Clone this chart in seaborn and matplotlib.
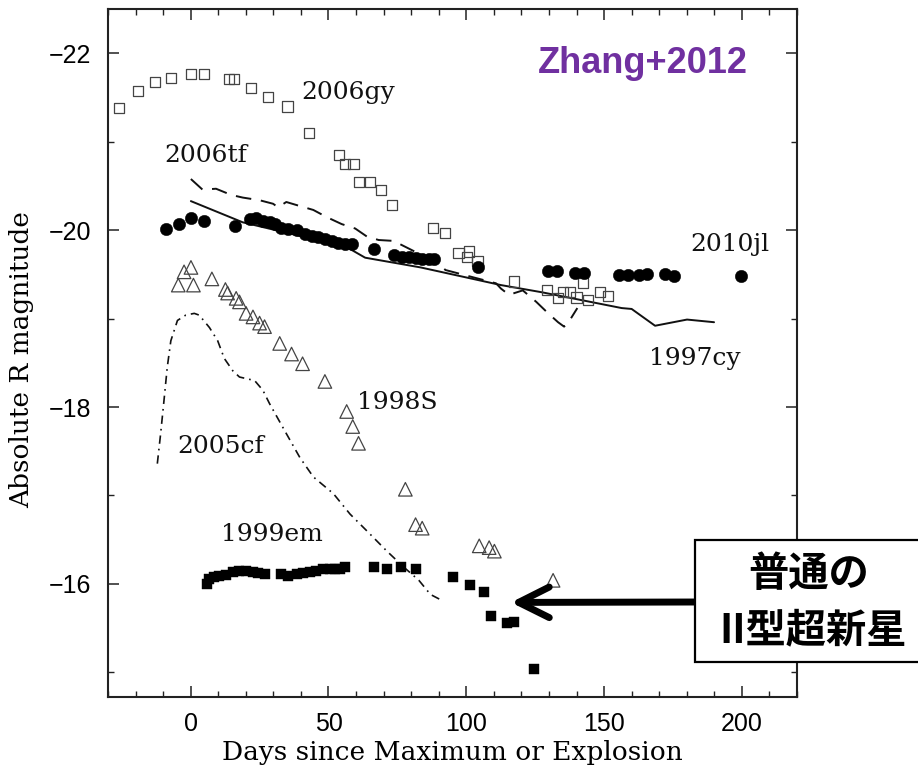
import numpy as np
import pandas as pd
import matplotlib
matplotlib.use("Agg")
import matplotlib.pyplot as plt
import seaborn as sns
from matplotlib.patches import Rectangle
from matplotlib.ticker import MultipleLocator

# ---------------- data ----------------
gy_days = [-26.1, -19.0, -13.0, -7.2, 0.1, 4.9, 14.0, 15.6, 22.0, 28.0, 35.1, 42.9,
           53.9, 56.0, 59.1, 61.2, 65.1, 69.2, 73.1, 88.0, 92.2, 97.2, 101.0, 100.4,
           104.1, 117.2, 129.4, 133.3, 135.1, 137.5, 140.0, 142.4, 144.2, 148.5, 151.5]
gy_mag = [-21.38, -21.58, -21.68, -21.72, -21.77, -21.77, -21.71, -21.71, -21.61, -21.51,
          -21.40, -21.10, -20.85, -20.75, -20.75, -20.55, -20.55, -20.46, -20.29, -20.03,
          -19.97, -19.74, -19.76, -19.70, -19.65, -19.42, -19.32, -19.23, -19.30, -19.30,
          -19.24, -19.40, -19.21, -19.30, -19.26]

jl_days = [-9.1, -4.2, 0.1, 4.9, 15.9, 21.4, 23.8, 26.2, 28.6, 30.5, 32.9, 35.3, 38.4,
           41.4, 43.9, 46.3, 48.7, 51.2, 53.6, 56.0, 58.5, 66.4, 73.6, 76.7, 79.1, 81.6,
           84.0, 86.4, 88.3, 104.2, 129.5, 133.0, 139.4, 142.7, 155.5, 158.8, 162.5,
           165.5, 172.2, 175.3, 199.6]
jl_mag = [-20.01, -20.07, -20.14, -20.10, -20.05, -20.13, -20.14, -20.11, -20.09, -20.07,
          -20.03, -20.02, -20.00, -19.96, -19.94, -19.92, -19.90, -19.88, -19.86, -19.85,
          -19.84, -19.79, -19.72, -19.70, -19.70, -19.69, -19.68, -19.67, -19.67, -19.58,
          -19.54, -19.54, -19.52, -19.52, -19.49, -19.49, -19.49, -19.50, -19.50, -19.48,
          -19.48]

tf_days = [0.07, 4.3, 9.2, 14.7, 18.9, 25.0, 29.9, 31.7, 34.7, 39.0, 44.5, 49.3, 54.8,
           59.7, 63.9, 68.2, 73.6, 88.9, 92.5, 110.8, 112.6, 115.5, 120.5, 125.4, 129.4,
           133.3, 135.5, 137.5, 140.3]
tf_mag = [-20.58, -20.46, -20.47, -20.40, -20.37, -20.34, -20.30, -20.26, -20.32, -20.28,
          -20.23, -20.15, -20.07, -20.02, -19.93, -19.89, -19.88, -19.64, -19.55, -19.40,
          -19.34, -19.27, -19.32, -19.19, -19.07, -18.96, -18.91, -18.98, -19.12]

cy_days = [0.07, 18.9, 56.6, 63.3, 83.4, 112.6, 127.2, 156.4, 160.0, 168.5, 180.1, 189.9]
cy_mag = [-20.33, -20.09, -19.81, -19.69, -19.58, -19.38, -19.30, -19.12, -19.11, -18.92,
          -18.99, -18.96]

s98_days = [-4.5, -2.4, 0.1, 1.0, 7.7, 12.6, 13.4, 16.5, 17.7, 20.1, 22.6, 25.0, 26.8,
            32.3, 36.6, 40.6, 48.7, 56.6, 58.8, 60.9, 77.9, 81.6, 84.0, 104.7, 108.3,
            110.2, 131.5]
s98_mag = [-19.38, -19.53, -19.58, -19.38, -19.45, -19.33, -19.29, -19.23, -19.19, -19.06,
           -19.02, -18.95, -18.91, -18.72, -18.60, -18.49, -18.29, -17.95, -17.78, -17.59,
           -17.07, -16.67, -16.63, -16.43, -16.41, -16.37, -16.04]

cf_days = [-12.1, -10.9, -9.7, -8.5, -7.2, -4.8, -1.8, 1.3, 3.1, 6.8, 9.8, 12.2, 15.3,
           17.7, 23.2, 26.2, 28.6, 34.7, 39.6, 44.5, 51.8, 57.8, 63.9, 71.2, 77.3, 82.8,
           87.0, 90.7]
cf_mag = [-17.36, -17.70, -18.07, -18.45, -18.75, -18.98, -19.04, -19.06, -19.04, -18.90,
          -18.75, -18.55, -18.41, -18.34, -18.30, -18.19, -18.04, -17.70, -17.43, -17.21,
          -17.02, -16.79, -16.60, -16.37, -16.19, -16.04, -15.88, -15.82]

em_days = [6.1, 6.8, 8.6, 10.4, 12.8, 15.3, 17.7, 20.1, 22.6, 24.4, 26.8, 32.9, 35.3,
           38.4, 40.8, 43.2, 45.6, 48.1, 50.5, 52.3, 54.2, 56.0, 66.4, 71.3, 76.4, 81.6,
           95.3, 101.4, 106.5, 108.9, 114.8, 117.4, 124.7]
em_mag = [-16.00, -16.05, -16.08, -16.09, -16.10, -16.13, -16.14, -16.15, -16.13, -16.12,
          -16.11, -16.11, -16.09, -16.11, -16.12, -16.13, -16.15, -16.17, -16.17, -16.17,
          -16.17, -16.19, -16.19, -16.17, -16.19, -16.17, -16.08, -15.99, -15.91, -15.64,
          -15.56, -15.57, -15.04]

label_names = ["2006gy", "2006tf", "2010jl", "1997cy", "1998S", "2005cf", "1999em"]
label_x = [57.1, 5.6, 195.6, 183.1, 74.9, 11.0, 29.3]
label_y = [-21.48, -20.77, -19.77, -18.48, -17.98, -17.48, -16.48]

x_ticks = [0, 50, 100, 150, 200]
y_ticks = [-22, -20, -18, -16]

xlabel = "Days since Maximum or Explosion"
ylabel = "Absolute R magnitude"
credit = "Zhang+2012"
box_lines = ["普通の", "II型超新星"]
arrow_tip = (116.2, -15.79)

# ---------------- figure ----------------
sns.set_theme(style="ticks")
plt.rcParams['font.family'] = ['Liberation Sans', 'DejaVu Sans']
plt.rcParams['axes.unicode_minus'] = True
plt.rcParams['text.color'] = 'black'
plt.rcParams['axes.labelcolor'] = 'black'
plt.rcParams['xtick.color'] = '#222222'
plt.rcParams['ytick.color'] = '#222222'
plt.rcParams['xtick.labelcolor'] = 'black'
plt.rcParams['ytick.labelcolor'] = 'black'

W, H = 918, 767
fig = plt.figure(figsize=(W / 100, H / 100), dpi=100)
fig.patch.set_facecolor("white")
ax = fig.add_axes([108 / W, 1 - 697 / H, (797 - 108) / W, (697 - 9.3) / H])
ax.set_facecolor("white")

# lines
sns.lineplot(x=cy_days, y=cy_mag, sort=False, estimator=None, color="#111111",
             lw=1.4, ax=ax)
sns.lineplot(x=tf_days, y=tf_mag, sort=False, estimator=None, color="#111111",
             lw=1.4, linestyle=(0, (8, 5)), ax=ax)
sns.lineplot(x=cf_days, y=cf_mag, sort=False, estimator=None, color="#111111",
             lw=1.2, linestyle=(0, (5, 3, 1, 3)), ax=ax)

# points
sns.scatterplot(x=gy_days, y=gy_mag, marker="s", s=54, facecolor="none",
                edgecolor="#444444", linewidth=0.9, ax=ax, zorder=3)
sns.scatterplot(x=s98_days, y=s98_mag, marker="^", s=95, facecolor="none",
                edgecolor="#444444", linewidth=0.9, ax=ax, zorder=3)
sns.scatterplot(x=jl_days, y=jl_mag, marker="o", s=80, color="black",
                edgecolor="black", linewidth=0.3, ax=ax, zorder=4)
sns.scatterplot(x=em_days, y=em_mag, marker="s", s=44, color="black",
                edgecolor="black", linewidth=0.3, ax=ax, zorder=4)

for name, lx, ly in zip(label_names, label_x, label_y):
    ax.text(lx, ly, name, ha="center", va="baseline", fontsize=18,
            family="DejaVu Serif", color="#111111")

ax.set_xlim(-30, 220)
ax.set_ylim(-14.72, -22.5)
ax.set_xticks(x_ticks)
ax.set_yticks(y_ticks)
ax.xaxis.set_minor_locator(MultipleLocator(10))
ax.yaxis.set_minor_locator(MultipleLocator(1))
ax.tick_params(which="both", direction="in", top=True, right=True, color="#222222")
ax.tick_params(which="major", length=8, width=1.1, labelsize=18, labelcolor="black")
ax.tick_params(which="minor", length=4.3, width=1.0)
ax.tick_params(axis="x", which="major", pad=11)
ax.tick_params(axis="y", which="major", pad=12)
for sp in ax.spines.values():
    sp.set_linewidth(1.5)
    sp.set_color("#222222")

ax.set_xlabel(xlabel, fontsize=19, family="DejaVu Serif", va="center", color="black")
ax.set_ylabel(ylabel, fontsize=19, family="DejaVu Serif", va="center", color="black")
ax.xaxis.set_label_coords(0.5, -0.08)
ax.yaxis.set_label_coords(-0.125, 0.49)

# arrow
ax.annotate("", xy=arrow_tip, xycoords="data",
            xytext=(700 / W, 1 - 602 / H), textcoords="figure fraction",
            arrowprops=dict(arrowstyle="->,head_length=1.1,head_width=0.55",
                            lw=5, color="black", mutation_scale=20,
                            shrinkA=0, shrinkB=0),
            annotation_clip=False, zorder=6)

# box
rect = Rectangle((695 / W, 1 - 662 / H), (960 - 695) / W, (662 - 540) / H,
                 transform=fig.transFigure, facecolor="white", edgecolor="black",
                 lw=1.6, zorder=5)
fig.add_artist(rect)
fig.text(809 / W, 1 - 574 / H, box_lines[0], ha="center", va="center", fontsize=29,
         fontweight="bold", color="black",
         family=["Noto Sans CJK JP", "DejaVu Sans"], zorder=6)
fig.text(813 / W, 1 - 631 / H, box_lines[1], ha="center", va="center", fontsize=29,
         fontweight="bold", color="black",
         family=["Noto Sans CJK JP", "DejaVu Sans"], zorder=6)

fig.text(642.5 / W, 1 - 73.3 / H, credit, ha="center", va="baseline", fontsize=26,
         fontweight="bold", color="#7030A0", family="Liberation Sans")

fig.savefig("out.png", dpi=100)
